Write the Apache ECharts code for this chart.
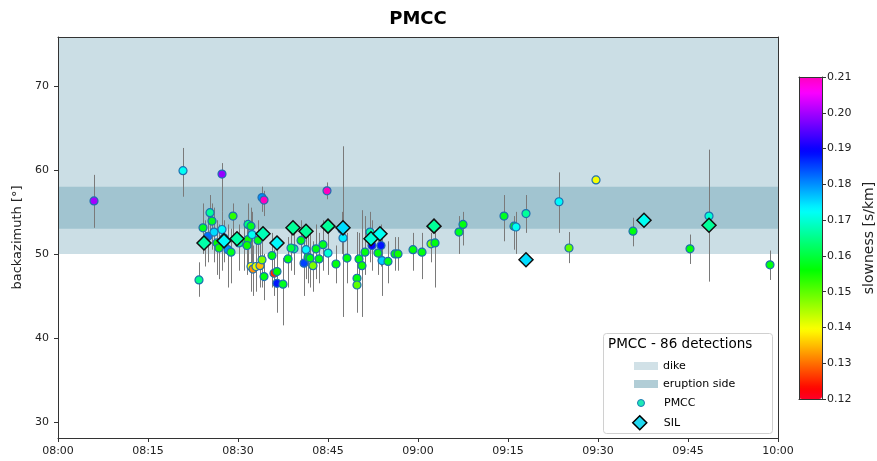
<!DOCTYPE html>
<html>
<head>
<meta charset="utf-8">
<script src="https://cdn.jsdelivr.net/npm/echarts@6/dist/echarts.min.js"></script>
<style>
  html, body { margin: 0; padding: 0; background: #fff; }
  #chart { width: 877px; height: 461px; }
</style>
</head>
<body>
<div id="chart"></div>
<script>
// PMCC detections: time, backazimuth, slowness, error bar low / high
const pmccTime = ['08:06:00', '08:20:50', '08:23:30', '08:24:10', '08:25:00', '08:25:20', '08:25:40', '08:26:00', '08:26:30', '08:26:50',
  '08:27:20', '08:27:20', '08:28:20', '08:28:50', '08:29:10', '08:31:00', '08:31:40', '08:31:40', '08:32:10', '08:32:30',
  '08:33:00', '08:33:40', '08:32:10', '08:32:20', '08:31:30', '08:33:20', '08:34:00', '08:34:00', '08:34:20', '08:34:20',
  '08:35:40', '08:36:00', '08:36:30', '08:36:30', '08:37:30', '08:38:20', '08:39:20', '08:40:30', '08:41:20', '08:41:00',
  '08:41:40', '08:42:00', '08:42:30', '08:43:00', '08:43:30', '08:44:10', '08:45:00', '08:44:50', '08:46:20', '08:47:30',
  '08:48:10', '08:49:50', '08:49:50', '08:50:10', '08:50:40', '08:51:10', '08:52:00', '08:52:20', '08:53:20', '08:53:50',
  '08:54:00', '08:55:00', '08:56:10', '08:56:40', '08:59:10', '09:00:40', '09:02:10', '09:02:50', '09:06:50', '09:07:30',
  '09:14:20', '09:16:00', '09:16:20', '09:18:00', '09:23:30', '09:25:10', '09:29:40', '09:35:50', '09:45:20', '09:48:30',
  '09:58:40', '08:24:30', '08:27:40', '08:30:10', '08:47:20', '08:38:50'];
const pmccBaz = [56.3, 59.9, 46.9, 53.1, 52.1, 54.9, 53.9, 52.6, 51.3, 50.7,
  59.5, 52.9, 50.5, 50.2, 54.5, 51.4, 51.7, 53.5, 48.5, 48.2,
  48.5, 48.6, 53.3, 52.3, 51.0, 51.6, 49.3, 56.7, 56.4, 47.3,
  49.8, 47.7, 47.9, 46.5, 46.4, 49.4, 50.6, 51.6, 50.5, 48.9,
  49.6, 49.5, 48.6, 50.6, 49.4, 51.1, 50.1, 57.5, 48.8, 51.9,
  49.5, 47.1, 46.3, 49.4, 48.6, 50.2, 52.6, 51.0, 50.1, 51.0,
  49.2, 49.1, 50.0, 50.0, 50.5, 50.2, 51.2, 51.3, 52.6, 53.5,
  54.5, 53.3, 53.2, 54.8, 56.2, 50.7, 58.8, 52.7, 50.6, 54.5,
  48.7, 51.6, 51.9, 51.3, 52.9, 50.7];
const pmccSlow = [0.200, 0.172, 0.165, 0.158, 0.182, 0.166, 0.158, 0.175, 0.156, 0.155,
  0.199, 0.173, 0.180, 0.158, 0.153, 0.148, 0.155, 0.164, 0.140, 0.132,
  0.141, 0.135, 0.158, 0.172, 0.155, 0.158, 0.148, 0.180, 0.210, 0.157,
  0.157, 0.125, 0.156, 0.188, 0.158, 0.157, 0.165, 0.157, 0.173, 0.185,
  0.156, 0.157, 0.148, 0.157, 0.157, 0.158, 0.170, 0.210, 0.157, 0.174,
  0.157, 0.157, 0.150, 0.157, 0.155, 0.157, 0.167, 0.190, 0.157, 0.188,
  0.176, 0.158, 0.157, 0.155, 0.157, 0.157, 0.148, 0.157, 0.158, 0.157,
  0.158, 0.157, 0.172, 0.166, 0.173, 0.150, 0.140, 0.157, 0.157, 0.170,
  0.157, 0.183, 0.160, 0.165, 0.170, 0.160];
const pmccErrLo = [53.1, 56.8, 44.9, 50.0, 49.0, 52.0, 50.5, 49.0, 47.5, 47.0,
  55.0, 48.0, 46.0, 46.5, 51.5, 48.0, 48.5, 50.5, 45.5, 45.0,
  45.5, 46.0, 50.0, 49.0, 47.5, 48.5, 46.0, 55.0, 54.5, 44.5,
  46.0, 45.0, 44.5, 43.0, 41.5, 46.0, 47.5, 48.5, 47.0, 45.0,
  46.5, 46.0, 45.5, 47.0, 46.5, 48.0, 47.5, 56.5, 46.5, 42.5,
  46.5, 43.7, 43.0, 46.0, 42.5, 47.5, 49.0, 48.0, 47.5, 48.5,
  45.0, 46.5, 48.0, 48.0, 48.0, 47.0, 49.0, 46.0, 50.0, 51.0,
  51.5, 50.5, 50.0, 52.5, 52.5, 48.9, 58.8, 50.9, 48.8, 46.7,
  46.9, 48.5, 49.0, 48.0, 50.0, 48.0];
const pmccErrHi = [59.4, 62.6, 49.0, 56.0, 55.0, 57.0, 56.0, 55.5, 54.0, 53.5,
  60.8, 55.0, 53.5, 53.0, 56.0, 54.0, 54.5, 56.0, 51.5, 51.0,
  52.0, 51.5, 55.5, 55.0, 53.5, 54.0, 52.0, 58.0, 57.5, 50.0,
  52.5, 50.5, 50.5, 49.5, 49.5, 52.0, 53.0, 54.0, 53.5, 52.0,
  52.5, 52.5, 51.5, 53.5, 52.5, 54.0, 52.5, 58.5, 51.0, 62.8,
  52.5, 52.6, 49.5, 52.5, 55.2, 54.5, 55.0, 54.0, 52.5, 53.5,
  52.0, 51.5, 52.0, 52.0, 52.5, 52.5, 52.5, 54.0, 54.5, 55.0,
  57.0, 54.5, 55.0, 57.0, 59.7, 52.6, 58.8, 54.3, 52.3, 62.4,
  50.4, 54.0, 54.0, 53.5, 55.0, 53.0];

// SIL events: time, backazimuth, slowness
const silTime = ['08:24:20', '08:27:40', '08:29:50', '08:34:10', '08:36:30', '08:39:10', '08:41:20', '08:45:00',
  '08:47:30', '08:52:10', '08:53:40', '09:02:40', '09:18:00', '09:37:40', '09:48:30'];
const silBaz = [51.3, 51.55, 51.8, 52.4, 51.3, 53.1, 52.7, 53.3, 53.1, 51.8, 52.4, 53.3, 49.3, 54.0, 53.4];
const silSlow = [0.167, 0.173, 0.167, 0.168, 0.173, 0.166, 0.166, 0.166, 0.175, 0.170, 0.172, 0.166, 0.175, 0.172, 0.166];

// shaded azimuth ranges
const dikeBand = [50, 75.8];
const eruptionBand = [53, 58];

const yTicks = [30, 40, 50, 60, 70];
const slowTicks = [0.12, 0.21];

// gist_rainbow colormap
const rainbowStops = [
  [0.000, [255, 0, 41]], [0.030, [255, 0, 0]], [0.215, [255, 255, 0]], [0.400, [0, 255, 0]],
  [0.586, [0, 255, 255]], [0.770, [0, 0, 255]], [0.954, [255, 0, 255]], [1.000, [255, 0, 191]]
];
function rainbow(t) {
  for (let i = 1; i < rainbowStops.length; i++) {
    const a = rainbowStops[i - 1], b = rainbowStops[i];
    if (t <= b[0]) {
      const f = (t - a[0]) / (b[0] - a[0]);
      const c = a[1].map((v, k) => Math.round(v + (b[1][k] - v) * f));
      return 'rgb(' + c.join(',') + ')';
    }
  }
  return 'rgb(255,0,191)';
}
const cmap = [];
for (let i = 0; i <= 60; i++) cmap.push(rainbow(i / 60));

function toMin(s) {
  const p = s.split(':').map(Number);
  return (p[0] - 8) * 60 + p[1] + p[2] / 60;
}
function pad(n) { return (n < 10 ? '0' : '') + n; }

const pmccData = pmccTime.map((t, i) => [toMin(t), pmccBaz[i], pmccSlow[i]]);
const errData = pmccTime.map((t, i) => [toMin(t), pmccErrLo[i], pmccErrHi[i]]);
const silData = silTime.map((t, i) => [toMin(t), silBaz[i], silSlow[i]]);

const font = 'DejaVu Sans';
const txt = '#222';

const chart = echarts.init(document.getElementById('chart'));
chart.setOption({
  animation: false,
  textStyle: { fontFamily: font },
  grid: [
    { left: 58, top: 37, width: 720, height: 401 },
    { left: 799, top: 77, width: 23, height: 322 }
  ],
  xAxis: [
    {
      type: 'value', gridIndex: 0, min: 0, max: 120, interval: 15, z: 10,
      axisLine: { onZero: false, lineStyle: { color: '#333' } },
      axisTick: { length: 4, lineStyle: { color: '#333' } },
      axisLabel: { color: txt, fontSize: 11, margin: 8,
        formatter: v => pad(8 + Math.floor(v / 60)) + ':' + pad(v % 60) },
      splitLine: { show: false }
    },
    {
      type: 'value', gridIndex: 0, position: 'top', min: 0, max: 120, z: 10,
      name: 'PMCC', nameLocation: 'middle', nameGap: 9,
      nameTextStyle: { fontSize: 18, fontWeight: 'bold', color: '#000' },
      axisLine: { onZero: false, lineStyle: { color: '#333' } },
      axisTick: { show: false }, axisLabel: { show: false }, splitLine: { show: false }
    },
    {
      type: 'value', gridIndex: 1, min: 0, max: 1, z: 10,
      axisLine: { onZero: false, lineStyle: { color: '#333' } },
      axisTick: { show: false }, axisLabel: { show: false }, splitLine: { show: false }
    },
    {
      type: 'value', gridIndex: 1, position: 'top', min: 0, max: 1, z: 10,
      axisLine: { onZero: false, lineStyle: { color: '#333' } },
      axisTick: { show: false }, axisLabel: { show: false }, splitLine: { show: false }
    }
  ],
  yAxis: [
    {
      type: 'value', gridIndex: 0, min: 28.1, max: 75.8, z: 10,
      name: 'backazimuth [°]', nameLocation: 'middle', nameGap: 31, nameRotate: 90,
      nameTextStyle: { fontSize: 13, color: txt },
      axisLine: { show: true, onZero: false, lineStyle: { color: '#333' } },
      axisTick: { show: true, length: 4, customValues: yTicks, lineStyle: { color: '#333' } },
      axisLabel: { color: txt, fontSize: 11, margin: 9, customValues: yTicks },
      splitLine: { show: false }
    },
    {
      type: 'value', gridIndex: 0, position: 'right', min: 28.1, max: 75.8, z: 10,
      axisLine: { show: true, onZero: false, lineStyle: { color: '#333' } },
      axisTick: { show: false }, axisLabel: { show: false }, splitLine: { show: false }
    },
    {
      type: 'value', gridIndex: 1, position: 'right', min: slowTicks[0], max: slowTicks[1], interval: 0.01, z: 10,
      name: 'slowness [s/km]', nameLocation: 'middle', nameGap: 40, nameRotate: 90,
      nameTextStyle: { fontSize: 14, color: txt },
      axisLine: { show: true, onZero: false, lineStyle: { color: '#333' } },
      axisTick: { show: true, length: 4, lineStyle: { color: '#333' } },
      axisLabel: { color: txt, fontSize: 11, margin: 5, formatter: v => v.toFixed(2) },
      splitLine: { show: false }
    },
    {
      type: 'value', gridIndex: 1, position: 'left', min: 0, max: 1, z: 10,
      axisLine: { show: true, onZero: false, lineStyle: { color: '#333' } },
      axisTick: { show: false }, axisLabel: { show: false }, splitLine: { show: false }
    }
  ],
  visualMap: {
    type: 'continuous', min: slowTicks[0], max: slowTicks[1], dimension: 2, seriesIndex: [3, 4],
    left: 799, top: 77, itemWidth: 23, itemHeight: 322, padding: 0,
    calculable: false, text: ['', ''], showLabel: false, hoverLink: false,
    inRange: { color: cmap }
  },
  graphic: [
    { type: 'rect', left: 603, top: 333, z: 50,
      shape: { width: 169, height: 100, r: 3 },
      style: { fill: 'rgba(255,255,255,0.85)', stroke: '#d0d0d0', lineWidth: 1 } },
    { type: 'text', left: 608, top: 337, z: 51,
      style: { text: 'PMCC - 86 detections', fontSize: 13.5, fontFamily: font, fill: '#000' } }
  ],
  legend: [
    { orient: 'vertical', left: 629, top: 355, z: 60, itemWidth: 24, itemHeight: 8, itemGap: 6, itemTextGap: 10,
      selectedMode: false, textStyle: { fontSize: 11, color: '#000', lineHeight: 12 },
      data: [
        { name: 'dike', icon: 'rect', itemStyle: { color: '#c6dae1' } },
        { name: 'eruption side', icon: 'rect', itemStyle: { color: '#9dc0cc' } }
      ] },
    { orient: 'vertical', left: 632, top: 392, z: 60, itemWidth: 20, itemHeight: 7, itemTextGap: 21,
      selectedMode: false, textStyle: { fontSize: 11, color: '#000', lineHeight: 12, padding: [0, 0, 0, 8] },
      data: [{ name: 'PMCC', icon: 'circle', itemStyle: { color: '#1de9b6', borderColor: '#1f77b4', borderWidth: 1 } }] },
    { orient: 'vertical', left: 627, top: 410, z: 60, itemWidth: 14, itemHeight: 14, itemTextGap: 29,
      selectedMode: false, textStyle: { fontSize: 11, color: '#000', lineHeight: 12, padding: [0, 0, 0, 12] },
      data: [{ name: 'SIL', icon: 'diamond', itemStyle: { color: '#20d8f0', borderColor: '#000', borderWidth: 1.5 } }] }
  ],
  series: [
    {
      name: 'dike', type: 'scatter', data: [], z: 1,
      markArea: { silent: true, itemStyle: { color: '#cbdee5' },
        data: [[{ yAxis: dikeBand[0] }, { yAxis: dikeBand[1] }]] }
    },
    {
      name: 'eruption side', type: 'scatter', data: [], z: 1,
      markArea: { silent: true, itemStyle: { color: '#a1c4d0' },
        data: [[{ yAxis: eruptionBand[0] }, { yAxis: eruptionBand[1] }]] }
    },
    {
      name: 'err', type: 'custom', data: errData, z: 2, silent: true,
      renderItem: (params, api) => {
        const x = api.value(0);
        const p1 = api.coord([x, api.value(1)]);
        const p2 = api.coord([x, api.value(2)]);
        const px = Math.round(p1[0]) + 0.5;
        return { type: 'line', shape: { x1: px, y1: p1[1], x2: px, y2: p2[1] },
          style: { stroke: '#7a7a7a', lineWidth: 1 } };
      },
      encode: { x: 0, y: [1, 2] }
    },
    {
      name: 'PMCC', type: 'scatter', data: pmccData, z: 3, symbolSize: 8,
      itemStyle: { borderColor: '#1f6fb0', borderWidth: 1.2, opacity: 1 }
    },
    {
      name: 'SIL', type: 'scatter', data: silData, z: 4, symbol: 'diamond', symbolSize: 14,
      itemStyle: { borderColor: '#111', borderWidth: 1.5, opacity: 1 }
    }
  ]
});
</script>
</body>
</html>
